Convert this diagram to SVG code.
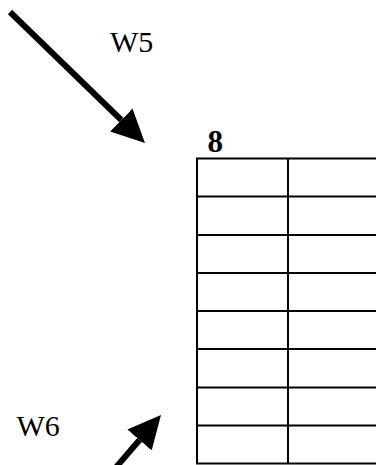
<svg xmlns="http://www.w3.org/2000/svg" width="376" height="465" viewBox="0 0 376 465">
<style>
.lbl{font-family:"Liberation Serif","Times New Roman",serif;font-size:30px;fill:#000}
.num{font-family:"Liberation Serif","Times New Roman",serif;font-size:31px;font-weight:bold;fill:#000}
.arr{stroke:#000;stroke-width:6;fill:none}
.grid{stroke:#000;stroke-width:2;fill:none}
</style>
<defs>
<marker id="ah" markerUnits="userSpaceOnUse" markerWidth="36" markerHeight="36" refX="0" refY="17" orient="auto" viewBox="0 0 36 34">
<path d="M0,1 L33,17 L0,33 Z" fill="#000"/>
</marker>
</defs>
<rect width="376" height="465" fill="#fff"/>
<g id="connectors">
<line class="arr" x1="10" y1="12" x2="121.3" y2="120" marker-end="url(#ah)"/>
<line class="arr" x1="112" y1="472" x2="139.5" y2="440" marker-end="url(#ah)"/>
</g>
<g id="label-w5"><text class="lbl" x="110" y="51.5">W5</text></g>
<g id="label-w6"><text class="lbl" x="16.5" y="436">W6</text></g>
<g id="table-8">
<text class="num" x="207.5" y="151.5">8</text>
<rect class="grid" x="197" y="158.5" width="182" height="305"/>
<line class="grid" x1="288" y1="158.5" x2="288" y2="463.5"/>
<line class="grid" x1="197" y1="196.5" x2="379" y2="196.5"/>
<line class="grid" x1="197" y1="235" x2="379" y2="235"/>
<line class="grid" x1="197" y1="273" x2="379" y2="273"/>
<line class="grid" x1="197" y1="311" x2="379" y2="311"/>
<line class="grid" x1="197" y1="349" x2="379" y2="349"/>
<line class="grid" x1="197" y1="387.5" x2="379" y2="387.5"/>
<line class="grid" x1="197" y1="425.5" x2="379" y2="425.5"/>
</g>
</svg>
